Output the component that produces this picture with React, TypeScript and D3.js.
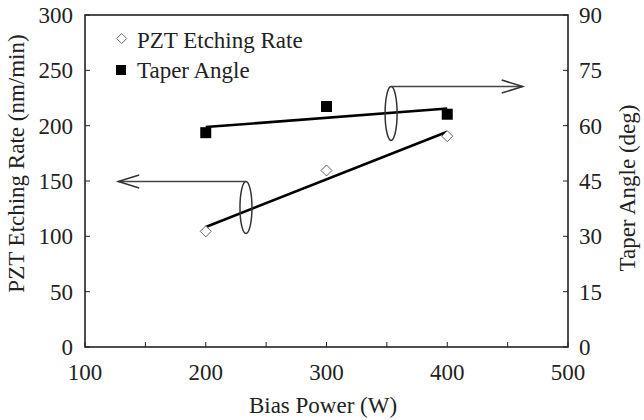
import React from "react";
import * as d3 from "d3";

const biasPower = [200, 300, 400];
const etchRate = [104.5, 159.5, 190.5];
const taperAngle = [58.1, 65.2, 63.1];

const xTicks = [100, 200, 300, 400, 500];
const xMinorTicks = [150, 250, 350, 450];
const yLeftTicks = [0, 50, 100, 150, 200, 250, 300];
const yRightTicks = [0, 15, 30, 45, 60, 75, 90];

const legendLabels = ["PZT Etching Rate", "Taper Angle"];

// annotation brackets (data coordinates)
const leftBracket = { x: 233.3, yRate: 126, ryRate: 23.5, tipX: 127.5 };
const rightBracket = { x: 353.5, yAngle: 63.3, ryAngle: 7.3, tipX: 462.5 };

function fit(xs: number[], ys: number[]) {
  const mx = d3.mean(xs)!;
  const my = d3.mean(ys)!;
  let num = 0, den = 0;
  xs.forEach((x, i) => { num += (x - mx) * (ys[i] - my); den += (x - mx) * (x - mx); });
  const b = num / den;
  const a = my - b * mx;
  return (x: number) => a + b * x;
}

export default function App() {
  const W = 644, H = 420;
  const x = d3.scaleLinear().domain([100, 500]).range([85, 568]);
  const yL = d3.scaleLinear().domain([0, 300]).range([347, 15]);
  const yR = d3.scaleLinear().domain([0, 90]).range([347, 15]);
  const font = "'Liberation Serif', 'Times New Roman', serif";
  const fs = 23;
  const axisColor = "#222";
  const textColor = "#222";

  const fRate = fit(biasPower, etchRate);
  const fAngle = fit(biasPower, taperAngle);
  const x0 = d3.min(biasPower)!, x1 = d3.max(biasPower)!;

  const line = d3.line<[number, number]>().x(d => d[0]).y(d => d[1]);

  const lx = x(leftBracket.x);
  const lcy = yL(leftBracket.yRate);
  const lry = yL(0) - yL(leftBracket.ryRate);
  const ltop = lcy - lry;
  const ltip = x(leftBracket.tipX);

  const rx = x(rightBracket.x);
  const rcy = yR(rightBracket.yAngle);
  const rry = yR(0) - yR(rightBracket.ryAngle);
  const rtop = rcy - rry;
  const rtip = x(rightBracket.tipX);

  const diamond = (cx: number, cy: number, r: number) =>
    `M${cx},${cy - r}L${cx + r},${cy}L${cx},${cy + r}L${cx - r},${cy}Z`;

  return (
    <svg width={W} height={H} style={{ position: "absolute", left: 0, top: 0, background: "#fff" }}>
      <rect x={0} y={0} width={W} height={H} fill="#fff" />
      {/* frame */}
      <rect x={x(100)} y={yL(300)} width={x(500) - x(100)} height={yL(0) - yL(300)}
        fill="none" stroke={axisColor} strokeWidth={1.6} />
      {/* x ticks */}
      {[...xTicks, ...xMinorTicks].map(t => (
        <line key={"xt" + t} x1={x(t)} x2={x(t)} y1={yL(0)} y2={yL(0) - 5} stroke={axisColor} strokeWidth={1} />
      ))}
      {xTicks.map(t => (
        <text key={"xl" + t} x={x(t)} y={380} textAnchor="middle" fontFamily={font} fontSize={fs} fill={textColor}>{t}</text>
      ))}
      {yLeftTicks.map(t => (
        <g key={"yl" + t}>
          <line x1={x(100)} x2={x(100) + 5} y1={yL(t)} y2={yL(t)} stroke={axisColor} strokeWidth={1} />
          <text x={73} y={yL(t) + 8} textAnchor="end" fontFamily={font} fontSize={fs} fill={textColor}>{t}</text>
        </g>
      ))}
      {yRightTicks.map(t => (
        <g key={"yr" + t}>
          <line x1={x(500)} x2={x(500) - 5} y1={yR(t)} y2={yR(t)} stroke={axisColor} strokeWidth={1} />
          <text x={579} y={yR(t) + 8} textAnchor="start" fontFamily={font} fontSize={fs} fill={textColor}>{t}</text>
        </g>
      ))}
      {/* axis titles */}
      <text x={323} y={413} textAnchor="middle" fontFamily={font} fontSize={fs} fill={textColor}>Bias Power (W)</text>
      <text transform={`translate(24,163.5) rotate(-90)`} textAnchor="middle" fontFamily={font} fontSize={fs} fill={textColor}>PZT Etching Rate (nm/min)</text>
      <text transform={`translate(634.5,188) rotate(-90)`} textAnchor="middle" fontFamily={font} fontSize={fs} fill={textColor}>Taper Angle (deg)</text>

      {/* fit lines */}
      <path d={line([[x(x0), yL(fRate(x0))], [x(x1), yL(fRate(x1))]])!} stroke="#000" strokeWidth={2.6} fill="none" />
      <path d={line([[x(x0), yR(fAngle(x0))], [x(x1), yR(fAngle(x1))]])!} stroke="#000" strokeWidth={2.6} fill="none" />

      {/* markers */}
      {biasPower.map((b, i) => (
        <path key={"d" + i} d={diamond(x(b), yL(etchRate[i]), 5.5)} fill="#fff" stroke="#666" strokeWidth={1} />
      ))}
      {biasPower.map((b, i) => (
        <rect key={"s" + i} x={x(b) - 5.5} y={yR(taperAngle[i]) - 5.5} width={11} height={11} fill="#000" />
      ))}

      {/* annotations */}
      <ellipse cx={lx} cy={lcy} rx={6} ry={lry} fill="none" stroke="#333" strokeWidth={1.5} />
      <line x1={lx} x2={ltip} y1={ltop} y2={ltop} stroke="#444" strokeWidth={1.6} />
      <path d={`M${ltip + 21},${ltop - 6.5}L${ltip},${ltop}L${ltip + 21},${ltop + 6.5}`} fill="none" stroke="#333" strokeWidth={1.5} />

      <ellipse cx={rx} cy={rcy} rx={6} ry={rry} fill="none" stroke="#333" strokeWidth={1.5} />
      <line x1={rx} x2={rtip} y1={rtop} y2={rtop} stroke="#444" strokeWidth={1.6} />
      <path d={`M${rtip - 21},${rtop - 6.5}L${rtip},${rtop}L${rtip - 21},${rtop + 6.5}`} fill="none" stroke="#333" strokeWidth={1.5} />

      {/* legend */}
      <path d={diamond(121.7, 38.5, 5)} fill="#fff" stroke="#666" strokeWidth={1} />
      <text x={137} y={47.5} fontFamily={font} fontSize={fs} fill={textColor}>{legendLabels[0]}</text>
      <rect x={116} y={65} width={10} height={10} fill="#000" />
      <text x={137} y={77.5} fontFamily={font} fontSize={fs} fill={textColor}>{legendLabels[1]}</text>
    </svg>
  );
}
